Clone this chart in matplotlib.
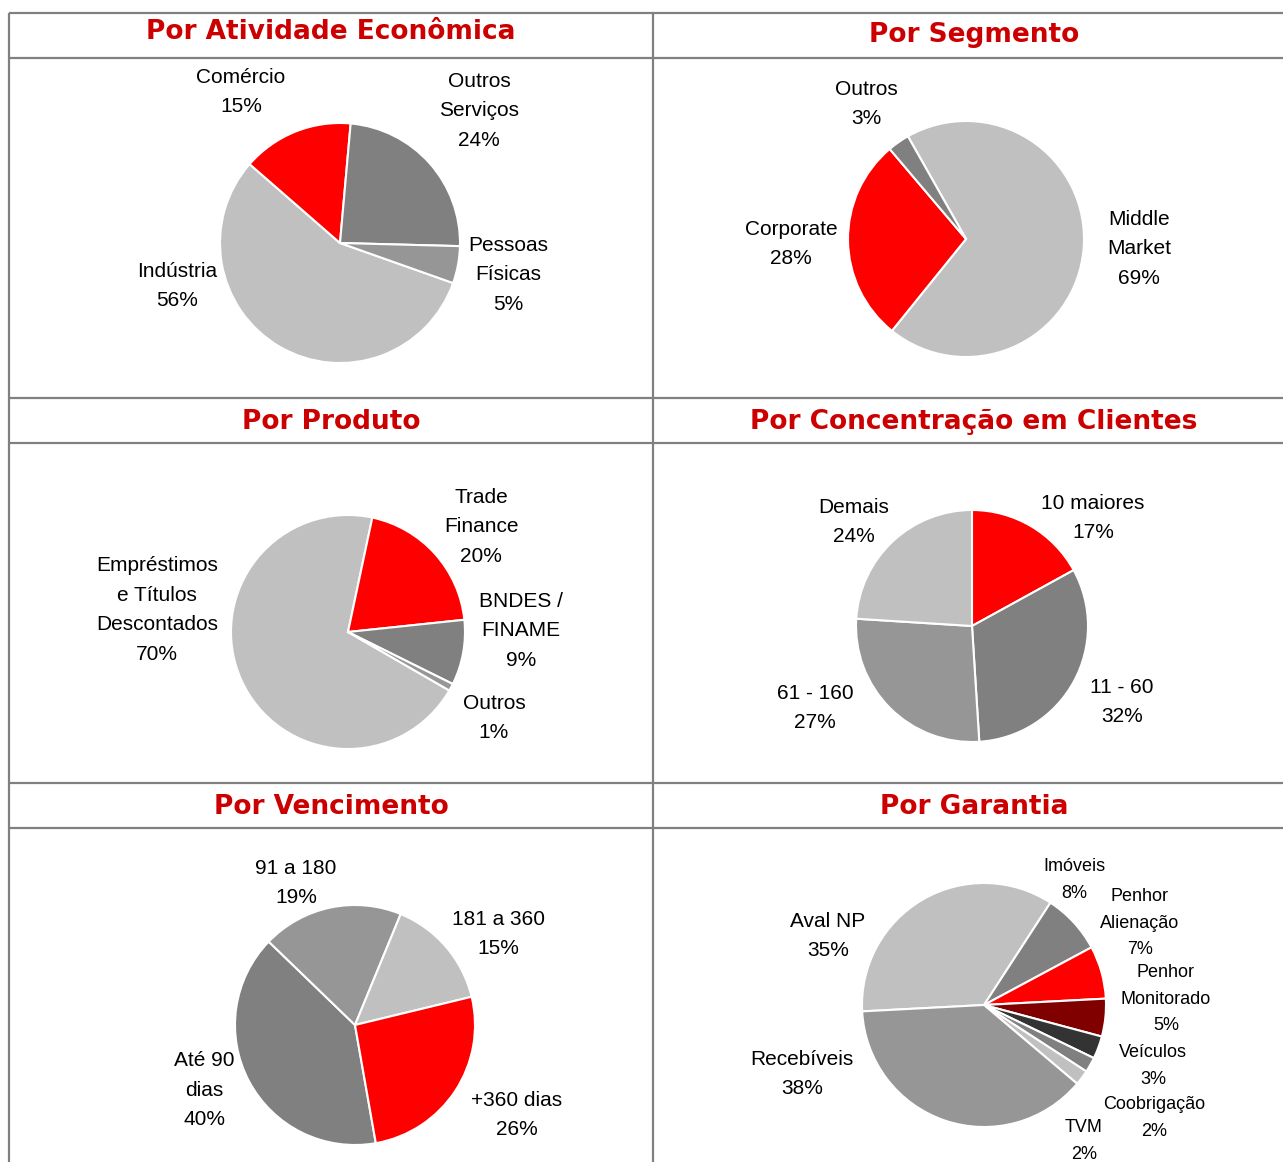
import matplotlib.pyplot as plt

W, H = 1283, 1162

# ---- data -------------------------------------------------------------
ativ_labels = ["Indústria", "Comércio", "Outros\nServiços", "Pessoas\nFísicas"]
ativ_values = [56, 15, 24, 5]

seg_labels = ["Middle\nMarket", "Corporate", "Outros"]
seg_values = [69, 28, 3]

prod_labels = ["Empréstimos\ne Títulos\nDescontados", "Trade\nFinance", "BNDES /\nFINAME", "Outros"]
prod_values = [70, 20, 9, 1]

conc_labels = ["10 maiores", "11 - 60", "61 - 160", "Demais"]
conc_values = [17, 32, 27, 24]

venc_labels = ["Até 90\ndias", "91 a 180", "181 a 360", "+360 dias"]
venc_values = [40, 19, 15, 26]

gar_labels = ["Aval NP", "Imóveis", "Penhor\nAlienação", "Penhor\nMonitorado",
              "Veículos", "Coobrigação", "TVM", "Recebíveis"]
gar_values = [35, 8, 7, 5, 3, 2, 2, 38]

titles = ["Por Atividade Econômica", "Por Segmento", "Por Produto",
          "Por Concentração em Clientes", "Por Vencimento", "Por Garantia"]

# ---- styling / layout -------------------------------------------------
LG, G, MG, RED, DRED, DG = "#C0C0C0", "#808080", "#969696", "#FF0000", "#800000", "#333333"

panels = [
    dict(labels=ativ_labels, values=ativ_values, colors=[LG, RED, G, MG],
         center=(340, 243), r=120, start=-19.5,
         offs=[(-163, -43), (-99, 151), (139, 132), (168, -32)], fs=[15] * 4),
    dict(labels=seg_labels, values=seg_values, colors=[LG, RED, G],
         center=(966, 239), r=118, start=119.5,
         offs=[(173, -10), (-175, -5), (-100, 135)], fs=[15] * 3),
    dict(labels=prod_labels, values=prod_values, colors=[LG, RED, G, MG],
         center=(348, 632), r=117, start=-30,
         offs=[(-191, 22), (133, 105), (173, 1), (146, -86)], fs=[15] * 4),
    dict(labels=conc_labels, values=conc_values, colors=[RED, G, MG, LG],
         center=(972, 626), r=116, start=90,
         offs=[(121, 108), (150, -76), (-157, -82), (-118, 104)], fs=[15] * 4),
    dict(labels=venc_labels, values=venc_values, colors=[G, MG, LG, RED],
         center=(355, 1025), r=120, start=-80,
         offs=[(-151, -65), (-59, 142), (143, 91), (162, -90)], fs=[15] * 4),
    dict(labels=gar_labels, values=gar_values,
         colors=[LG, G, RED, DRED, DG, G, LG, MG],
         center=(984, 1005), r=122, start=183,
         offs=[(-156, 69), (90, 125), (156, 82), (182, 6), (169, -61),
               (170, -113), (100, -136), (-182, -69)],
         fs=[15, 13, 13, 13, 13, 13, 13, 15]),
]

title_pos = [(331, 32), (974, 35), (331, 422), (974, 422), (331, 807), (974, 807)]

fig = plt.figure(figsize=(W / 100, H / 100), dpi=100)

# background axes in pixel coordinates for table borders and titles
bg = fig.add_axes([0, 0, 1, 1])
bg.set_xlim(0, W)
bg.set_ylim(H, 0)
bg.axis("off")
line_kw = dict(color="#808080", lw=1.6, solid_capstyle="butt")
for y in [13, 58, 398, 443, 783, 828]:
    bg.plot([9, W], [y, y], **line_kw)
for x in [9, 653]:
    bg.plot([x, x], [13, H], **line_kw)
for t, (x, y) in zip(titles, title_pos):
    bg.text(x, y, t, ha="center", va="center", fontsize=19, fontweight="bold",
            color="#CC0000", family="DejaVu Sans")

HALF = 230
for p in panels:
    cx, cy = p["center"]
    ax = fig.add_axes([(cx - HALF) / W, (H - cy - HALF) / H, 2 * HALF / W, 2 * HALF / H])
    ax.pie(p["values"], colors=p["colors"], radius=p["r"], startangle=p["start"],
           counterclock=False, wedgeprops=dict(edgecolor="white", linewidth=1.5))
    ax.set_xlim(-HALF, HALF)
    ax.set_ylim(-HALF, HALF)
    ax.set_aspect("equal")
    ax.axis("off")
    for lab, v, (dx, dy), fs in zip(p["labels"], p["values"], p["offs"], p["fs"]):
        ax.text(dx, dy, f"{lab}\n{v}%", ha="center", va="center", multialignment="center",
                fontsize=fs, family="Liberation Sans", linespacing=1.7, clip_on=False)

fig.savefig("out.png", dpi=100)
